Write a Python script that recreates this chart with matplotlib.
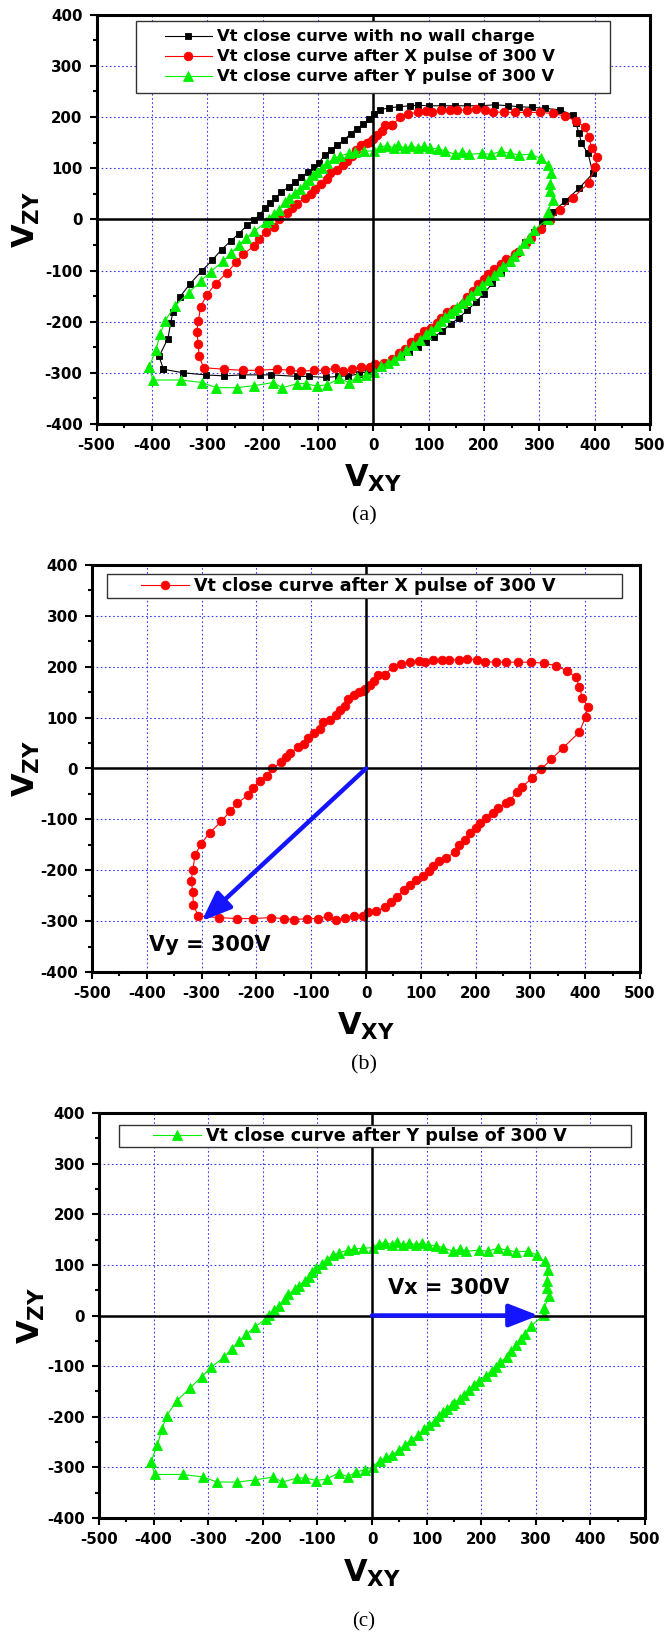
import numpy as np
import matplotlib.pyplot as plt
from matplotlib.patches import Rectangle

plt.rcParams['font.family'] = 'DejaVu Sans'
plt.rcParams['font.weight'] = 'bold'
plt.rcParams['axes.unicode_minus'] = False
plt.rcParams['mathtext.fontset'] = 'custom'
plt.rcParams['mathtext.rm'] = 'DejaVu Sans:bold'
plt.rcParams['mathtext.it'] = 'DejaVu Sans:bold'
plt.rcParams['mathtext.bf'] = 'DejaVu Sans:bold'

# --- data ---------------------------------------------------------------
# Vt close curve with no wall charge (black squares)
no_wall_x = [-379, -387, -371, -366, -362, -349, -331, -310, -291, -274, -257, -243,
             -228, -216, -205, -195, -186, -177, -166, -153, -141, -130, -118, -107,
             -98, -88, -76, -65, -53, -41, -30, -18, -8, 1, 12, 28, 47, 66, 81, 101,
             124, 147, 170, 195, 220, 244, 264, 286, 310, 337, 360, 366, 372, 376,
             388, 397, 372, 346, 325, 305, 290, 275, 260, 245, 230, 215, 200, 185,
             170, 155, 140, 125, 110, 95, 80, 65, 50, 35, 20, 5, -10, -25, -45, -64,
             -85, -116, -137, -184, -205, -238, -270, -303, -343]
no_wall_y = [-293, -268, -233, -203, -181, -151, -126, -101, -80, -59, -42, -28,
             -12, -2, 9, 23, 32, 42, 53, 63, 73, 83, 92, 102,
             111, 125, 136, 145, 155, 167, 177, 186, 196, 206, 214, 218, 220, 222, 223, 222,
             222, 222, 222, 222, 224, 222, 220, 219, 217, 214, 204, 188, 168, 149,
             129, 90, 61, 35, 15, -8, -25, -45, -65, -85, -105, -125, -145, -162,
             -178, -192, -205, -218, -230, -240, -250, -260, -268, -275, -282, -290, -297, -302, -306, -307,
             -309, -307, -307, -304, -304, -304, -306, -304, -300]

# Vt close curve after X pulse of 300 V (red circles)
x_pulse_x = [34, 49, 63, 80, 96, 107, 123, 138, 152, 169, 185, 202, 217, 237, 256, 277,
             301, 324, 347, 366, 383, 389, 395, 405, 401, 389, 360, 338, 320, 303, 285,
             276, 262, 256, 240, 231, 219, 208, 200, 189, 181, 169, 162, 146, 134, 123,
             115, 104, 92, 80, 69, 57, 46, 34, 19, 3, -5, -22, -38, -55, -69, -87, -107,
             -131, -150, -174, -206, -236, -269, -306, -315, -316, -319, -316, -312,
             -301, -285, -264, -248, -235, -216, -206, -194, -180, -171, -155, -146,
             -138, -124, -113, -105, -94, -84, -78, -66, -55, -47, -39, -32, -22, -12,
             -5, -1, 7, 15, 22]
x_pulse_y = [184, 200, 206, 209, 211, 210, 214, 213, 214, 213, 216, 213, 210, 209, 209, 209,
             209, 207, 202, 192, 180, 161, 139, 121, 102, 71, 41, 18, -1, -19, -36,
             -46, -63, -68, -77, -87, -97, -107, -117, -127, -140, -151, -165, -175, -182, -192,
             -202, -212, -219, -229, -239, -253, -262, -273, -280, -283, -289, -289, -293, -297, -290, -295, -295,
             -297, -295, -293, -295, -295, -293, -290, -268, -243, -221, -199, -171,
             -148, -126, -104, -84, -68, -53, -39, -24, -14, 0, 12, 22,
             30, 42, 49, 59, 69, 78, 91, 96, 106, 115, 123, 136, 145, 150,
             152, 157, 164, 172, 184]

# Vt close curve after Y pulse of 300 V (green triangles)
y_pulse_x = [-405, -393, -385, -376, -358, -333, -312, -294, -271, -257, -243, -230, -215,
             -194, -188, -180, -171, -160, -153, -141, -133, -123, -116, -109, -102, -92,
             -83, -71, -60, -44, -33, -16, 1, 12, 24, 37, 45, 57, 68, 80, 91, 103, 117,
             130, 148, 161, 173, 196, 212, 231, 247, 264, 285, 303, 316, 322, 320, 320,
             324, 315, 315, 291, 281, 272, 264, 254, 247, 235, 227, 219, 208, 196, 187,
             177, 169, 161, 151, 146, 138, 130, 122, 115, 105, 95, 84, 72, 60, 49, 37,
             26, 14, 1, -13, -30, -44, -61, -83, -102, -122, -137, -164, -181, -215,
             -247, -284, -309, -347, -398]
y_pulse_y = [-289, -256, -225, -198, -169, -143, -121, -102, -82, -66, -51, -37, -23,
             -6, 1, 10, 19, 33, 42, 52, 59, 69, 76, 86, 93, 101,
             110, 119, 124, 129, 131, 133, 134, 141, 144, 140, 145, 139, 143, 140, 143, 139, 138,
             134, 127, 131, 127, 129, 127, 133, 129, 126, 127, 119, 107, 90, 69, 55,
             38, 14, 1, -21, -36, -47, -59, -71, -82, -92, -101, -109, -119, -129, -138,
             -148, -157, -164, -172, -177, -184, -191, -199, -208, -216, -225, -236, -246, -256, -266, -275,
             -280, -287, -299, -305, -309, -319, -311, -323, -326, -321, -321, -329, -319, -325,
             -329, -329, -319, -314, -314]

labels = ['Vt close curve with no wall charge',
          'Vt close curve after X pulse of 300 V',
          'Vt close curve after Y pulse of 300 V']
colors = ['black', '#ff0000', '#00f000']
markers = ['s', 'o', '^']
msizes = [4.8, 6.2, 6.6]

vy_arrow = (-300, -300)
vx_arrow = (305, 0)


def closed(v):
    return np.append(v, v[0])


fig = plt.figure(figsize=(6.65, 16.35), dpi=100)


def px_axes(L, R, T, B):
    return fig.add_axes([L / 665, 1 - B / 1635, (R - L) / 665, (B - T) / 1635])


def style_axes(ax):
    ax.set_xlim(-500, 500)
    ax.set_ylim(-400, 400)
    ax.set_xticks(np.arange(-500, 501, 100))
    ax.set_yticks(np.arange(-400, 401, 100))
    ax.set_xticks(np.arange(-450, 500, 100), minor=True)
    ax.set_yticks(np.arange(-350, 400, 100), minor=True)
    ax.tick_params(which='major', direction='out', length=5, width=1.5, labelsize=10.8)
    ax.tick_params(axis='x', which='major', pad=5)
    ax.tick_params(axis='y', which='major', pad=5)
    ax.tick_params(which='minor', direction='out', length=3, width=1.5)
    for s in ax.spines.values():
        s.set_linewidth(2.2)
    ax.set_axisbelow(True)
    ax.grid(True, which='major', color='#3c3cff', linestyle=(0, (1.5, 2.2)), linewidth=0.8)
    ax.axhline(0, color='black', lw=1.8, zorder=2.6)
    ax.axvline(0, color='black', lw=1.8, zorder=2.6)
    ax.set_xlabel(r'$V_{XY}$', fontsize=22)
    ax.set_ylabel(r'$V_{ZY}$', fontsize=22)


def plot_curve(ax, xs, ys, i):
    line, = ax.plot(closed(xs), closed(ys), color=colors[i], lw=0.8, marker=markers[i],
                    markersize=msizes[i], markeredgewidth=0.6, markeredgecolor=colors[i],
                    label=labels[i])
    return line


def legend_box(ax, handles, box, hx, fs, hl):
    x0, y0, x1, y1 = box
    ax.add_patch(Rectangle((x0, y0), x1 - x0, y1 - y0, transform=ax.transAxes,
                           facecolor='white', edgecolor='#333333', lw=1.0, zorder=4))
    leg = ax.legend(handles=handles, loc='center left', bbox_to_anchor=(hx, (y0 + y1) / 2),
                    frameon=False, borderaxespad=0, borderpad=0, handlelength=hl,
                    handletextpad=0.3, labelspacing=0.3, fontsize=fs)
    leg.set_zorder(5)


# (a) all three curves
ax1 = px_axes(96.5, 650, 14.7, 424)
style_axes(ax1)
h0 = plot_curve(ax1, no_wall_x, no_wall_y, 0)
h1 = plot_curve(ax1, x_pulse_x, x_pulse_y, 1)
h2 = plot_curve(ax1, y_pulse_x, y_pulse_y, 2)
legend_box(ax1, [h0, h1, h2], (0.0714, 0.809, 0.928, 0.985), 0.124, 11.8, 2.85)
ax1.xaxis.set_label_coords(0.5, -0.095)
ax1.yaxis.set_label_coords(-0.098, 0.5)

# (b) after X pulse
ax2 = px_axes(92, 640, 565, 972)
style_axes(ax2)
h1b = plot_curve(ax2, x_pulse_x, x_pulse_y, 1)
legend_box(ax2, [h1b], (0.027, 0.919, 0.967, 0.977), 0.089, 12.6, 2.75)
ax2.annotate('', xy=vy_arrow, xytext=(0, 0),
             arrowprops=dict(arrowstyle='-|>,head_length=0.9,head_width=0.35',
                             color='#1414ff', lw=3.2, shrinkA=0, shrinkB=0,
                             mutation_scale=20), zorder=3)
ax2.text(-285, -347, 'Vy = 300V', fontsize=15, fontweight='bold', ha='center', va='center')
ax2.xaxis.set_label_coords(0.5, -0.095)
ax2.yaxis.set_label_coords(-0.091, 0.5)

# (c) after Y pulse
ax3 = px_axes(99, 645, 1113, 1518)
style_axes(ax3)
h2c = plot_curve(ax3, y_pulse_x, y_pulse_y, 2)
legend_box(ax3, [h2c], (0.037, 0.916, 0.974, 0.970), 0.099, 12.6, 2.75)
ax3.annotate('', xy=vx_arrow, xytext=(0, 0),
             arrowprops=dict(arrowstyle='-|>,head_length=0.9,head_width=0.35',
                             color='#1414ff', lw=3.2, shrinkA=0, shrinkB=0,
                             mutation_scale=20), zorder=3)
ax3.text(140, 54, 'Vx = 300V', fontsize=15, fontweight='bold', ha='center', va='center')
ax3.xaxis.set_label_coords(0.5, -0.098)
ax3.yaxis.set_label_coords(-0.095, 0.5)

for lab, yt, fs in zip(['(a)', '(b)', '(c)'], [506, 1055, 1612], [16, 16, 15]):
    fig.text(364 / 665, 1 - yt / 1635, lab, fontsize=fs, family='Liberation Serif',
             fontweight='normal', ha='center', va='top')

fig.savefig('out.png', dpi=100, facecolor='white')
